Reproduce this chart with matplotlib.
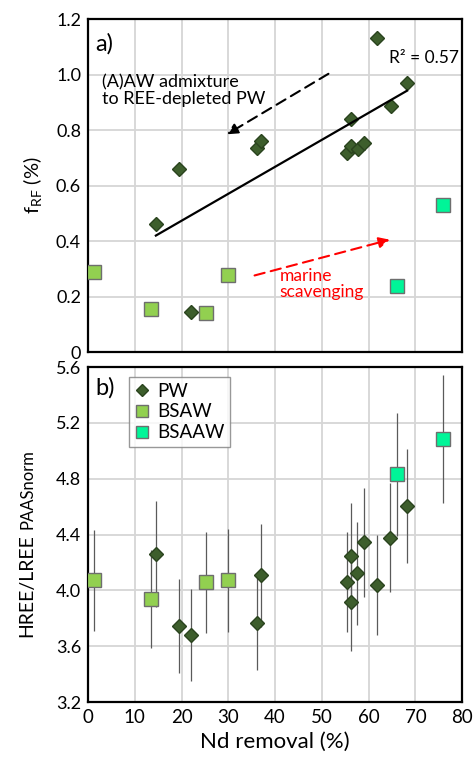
import numpy as np
import matplotlib
matplotlib.use('Agg')
import matplotlib.pyplot as plt

plt.rcParams['font.family'] = ['Lato', 'DejaVu Sans']
plt.rcParams['mathtext.fontset'] = 'custom'
plt.rcParams['mathtext.rm'] = 'Lato'

# --- data ---
# PW (Polar Water) samples
pw_nd = [14.5, 19.5, 22.0, 36.1, 37.0, 55.3, 56.2, 56.3, 57.7, 59.1, 61.8, 64.7, 68.2]
pw_frf = [0.46, 0.661, 0.143, 0.735, 0.76, 0.719, 0.841, 0.743, 0.733, 0.755, 1.133, 0.888, 0.970]
pw_nd_b = [14.5, 19.5, 22.0, 36.2, 37.0, 55.3, 56.2, 56.2, 57.6, 59.1, 61.8, 64.6, 68.2]
pw_ratio = [4.262, 3.743, 3.679, 3.765, 4.107, 4.059, 4.245, 3.918, 4.121, 4.345, 4.037, 4.376, 4.604]
pw_err = [0.38, 0.336, 0.33, 0.337, 0.37, 0.36, 0.38, 0.35, 0.37, 0.39, 0.36, 0.39, 0.41]

# BSAW
bsaw_nd = [1.35, 13.4, 25.2, 29.9]
bsaw_frf = [0.289, 0.155, 0.142, 0.276]
bsaw_ratio = [4.071, 3.939, 4.057, 4.073]
bsaw_err = [0.36, 0.35, 0.36, 0.37]

# BSAAW
bsaaw_nd = [66.0, 75.9]
bsaaw_frf = [0.238, 0.530]
bsaaw_ratio = [4.831, 5.086]
bsaaw_err = [0.44, 0.46]

r2_label = 'R² = 0.57'

c_pw = '#3d5e2c'
c_pw_edge = '#2a431e'
c_bsaw = '#92d050'
c_bsaaw = '#00f598'
c_edge = '#6e6e6e'
c_grid = '#d6d6d6'

fig = plt.figure(figsize=(4.76, 7.6), dpi=100)
ax1 = fig.add_axes([0.185, 0.5368, 0.786, 0.438])
ax2 = fig.add_axes([0.185, 0.0763, 0.786, 0.4408])

for ax in (ax1, ax2):
    ax.set_xlim(0, 80)
    ax.set_xticks(np.arange(0, 81, 10))
    ax.grid(True, color=c_grid, lw=1.3)
    ax.set_axisbelow(True)
    for s in ax.spines.values():
        s.set_linewidth(1.6)
        s.set_color('black')
    ax.tick_params(axis='x', length=0, labelsize=13.5, pad=5)
    ax.tick_params(axis='y', length=0, labelsize=13, pad=5)

# ---- panel a ----
ax1.set_ylim(0, 1.2)
ax1.set_yticks(np.arange(0, 1.21, 0.2))
ax1.set_yticklabels(['0', '0.2', '0.4', '0.6', '0.8', '1.0', '1.2'])
ax1.set_xticklabels([])

ax1.plot(bsaw_nd, bsaw_frf, 's', ms=10.5, mfc=c_bsaw, mec=c_edge, mew=1, zorder=3)
ax1.plot(bsaaw_nd, bsaaw_frf, 's', ms=10.5, mfc=c_bsaaw, mec=c_edge, mew=1, zorder=3)
ax1.plot(pw_nd, pw_frf, 'D', ms=7.5, mfc=c_pw, mec=c_pw_edge, mew=1, zorder=3)

# linear fit through PW
k, b = np.polyfit(pw_nd, pw_frf, 1)
xf = np.array([min(pw_nd), max(pw_nd)])
ax1.plot(xf, k * xf + b, color='black', lw=1.6, zorder=4)

ax1.text(1.5, 1.11, 'a)', fontsize=17, va='center')
ax1.text(3.0, 1.0, '(A)AW admixture\nto REE-depleted PW', fontsize=13,
         va='top', linespacing=1.05)
ax1.text(79.3, 1.06, r2_label, fontsize=12.5, ha='right', va='center')
ax1.text(41, 0.245, 'marine\nscavenging', fontsize=12.5, color='red',
         va='center', linespacing=1.05)

ax1.annotate('', xy=(29.7, 0.785), xytext=(51.4, 1.003),
             arrowprops=dict(arrowstyle='-|>', linestyle=(0, (5, 3)), color='black',
                             lw=1.5, mutation_scale=16, shrinkA=0, shrinkB=0))
ax1.annotate('', xy=(64.5, 0.405), xytext=(35.6, 0.276),
             arrowprops=dict(arrowstyle='-|>', linestyle=(0, (5, 3)), color='red',
                             lw=1.5, mutation_scale=16, shrinkA=0, shrinkB=0))

ax1.set_ylabel(r'f$_{\mathregular{RF}}$ (%)', fontsize=14.5, labelpad=8)

# ---- panel b ----
ax2.set_ylim(3.2, 5.6)
ax2.set_yticks(np.arange(3.2, 5.61, 0.4))
ax2.set_yticklabels(['%.1f' % v for v in np.arange(3.2, 5.61, 0.4)])

ax2.errorbar(pw_nd_b, pw_ratio, yerr=pw_err, fmt='none', ecolor='#5a5a5a',
             elinewidth=0.9, capsize=0, zorder=2)
ax2.errorbar(bsaw_nd, bsaw_ratio, yerr=bsaw_err, fmt='none', ecolor='#5a5a5a',
             elinewidth=0.9, capsize=0, zorder=2)
ax2.errorbar(bsaaw_nd, bsaaw_ratio, yerr=bsaaw_err, fmt='none', ecolor='#5a5a5a',
             elinewidth=0.9, capsize=0, zorder=2)

h1, = ax2.plot(pw_nd_b, pw_ratio, 'D', ms=7.5, mfc=c_pw, mec=c_pw_edge, mew=1,
               zorder=3, label='PW')
h2, = ax2.plot(bsaw_nd, bsaw_ratio, 's', ms=10.5, mfc=c_bsaw, mec=c_edge, mew=1,
               zorder=3, label='BSAW')
h3, = ax2.plot(bsaaw_nd, bsaaw_ratio, 's', ms=10.5, mfc=c_bsaaw, mec=c_edge, mew=1,
               zorder=3, label='BSAAW')

leg = ax2.legend(handles=[h1, h2, h3], loc='upper left', bbox_to_anchor=(0.11, 0.97),
                 fontsize=13.5, frameon=True, fancybox=False, edgecolor='#7f7f7f',
                 handlelength=0.8, handletextpad=0.4, borderpad=0.3,
                 labelspacing=0.2, markerscale=0.8, borderaxespad=0)
leg.get_frame().set_linewidth(1)
leg.set_zorder(5)

ax2.text(1.5, 5.45, 'b)', fontsize=17, va='center')
ax2.set_xlabel('Nd removal (%)', fontsize=16, labelpad=4)

# y label of panel b in two sizes, sharing one baseline
bx = 32 / 476
t1 = fig.text(bx, 1 - 637 / 760, 'HREE/LREE', fontsize=14, rotation=90,
              rotation_mode='anchor', ha='left', va='baseline')
fig.canvas.draw()
ext = t1.get_window_extent(fig.canvas.get_renderer())
y2 = (ext.y1 + 5) / fig.bbox.height
fig.text(bx, y2, 'PAASnorm', fontsize=12, rotation=90,
         rotation_mode='anchor', ha='left', va='baseline')

fig.savefig('out.png', dpi=100)
